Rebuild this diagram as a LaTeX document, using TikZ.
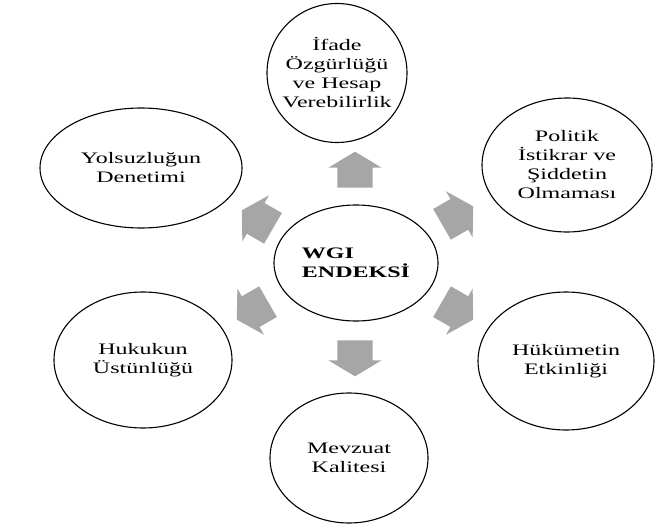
\documentclass[tikz,border=0pt]{standalone}
\usepackage{fontspec}
\setmainfont{Liberation Serif}[FakeStretch=1.5]
\usetikzlibrary{shapes.geometric,shapes.arrows}
\definecolor{arrowgray}{RGB}{166,166,166}

\begin{document}
\begin{tikzpicture}[x=1pt, y=-1pt,
    factor/.style={ellipse, draw, line width=1.1pt, inner sep=0pt, align=center, font=\fontsize{16}{19}\selectfont},
    hub/.style={factor, align=left, font=\bfseries\fontsize{16}{19}\selectfont},
    push/.style={single arrow, fill=arrowgray, draw=none, inner xsep=0pt, inner ysep=17.5pt, minimum height=36pt, single arrow head extend=9pt, single arrow tip angle=118}]
    \useasboundingbox (0,0) rectangle (656,532);
    % Central index
    \node[hub, minimum width=164pt, minimum height=116pt] (wgi) at (356,263) {WGI\\ENDEKSİ};

    % Six dimensions around it
    \node[factor, inner xsep=-7pt, minimum width=140pt, minimum height=139pt] (ifade) at (337,73) {İfade\\Özgürlüğü\\ve Hesap\\Verebilirlik};
    \node[factor, minimum width=170pt, minimum height=134pt] (politik) at (567,165) {Politik\\İstikrar ve\\Şiddetin\\Olmaması};
    \node[factor, minimum width=176pt, minimum height=138pt] (hukumet) at (566,361) {Hükümetin\\Etkinliği};
    \node[factor, minimum width=158pt, minimum height=130pt] (mevzuat) at (349,458) {Mevzuat\\Kalitesi};
    \node[factor, minimum width=178pt, minimum height=136pt] (hukuk) at (143,360) {Hukukun\\Üstünlüğü};
    \node[factor, minimum width=202pt, minimum height=120pt] (yolsuzluk) at (141,168) {Yolsuzluğun\\Denetimi};

    % Block arrows pointing outwards
    \node[push, rotate=90] (toifade) at (355,175) {};
    \node[push, rotate=30] (topolitik) at (453,218) {};
    \node[push, rotate=-30] (tohukumet) at (453,308) {};
    \node[push, rotate=-90] (tomevzuat) at (355,353) {};
    \node[push, rotate=-150] (tohukuk) at (257,308) {};
    \node[push, rotate=150] (toyolsuzluk) at (262,222) {};
\end{tikzpicture}
\end{document}
